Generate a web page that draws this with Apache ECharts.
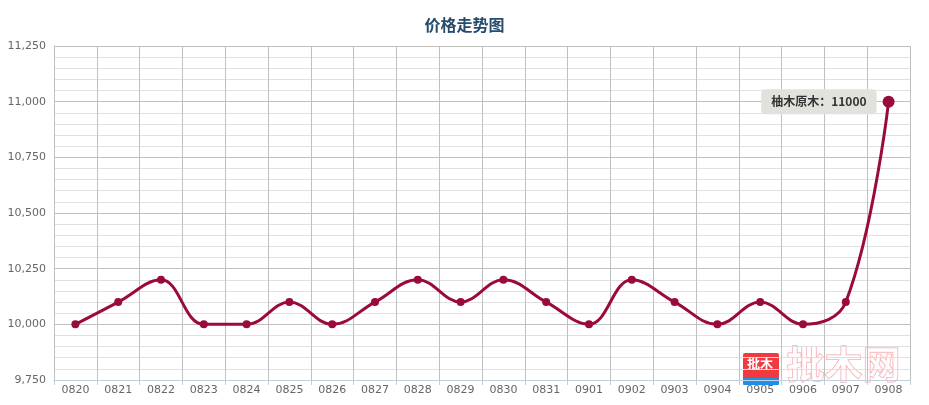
<!DOCTYPE html>
<html><head><meta charset="utf-8">
<script src="https://cdn.jsdelivr.net/npm/echarts@6/dist/echarts.min.js"></script>
<style>html,body{margin:0;padding:0;background:#fff}#c{width:929px;height:405px}</style>
</head><body><div id="c"></div>
<script>
const categories = ['0820','0821','0822','0823','0824','0825','0826','0827','0828','0829','0830','0831','0901','0902','0903','0904','0905','0906','0907','0908'];
const prices = [10000,10100,10200,10000,10000,10100,10000,10100,10200,10100,10200,10100,10000,10200,10100,10000,10100,10000,10100,11000];
const seriesName = '柚木原木';
const yMin = 9750, yMax = 11250, yStep = 250;

const chart = echarts.init(document.getElementById('c'));
const data = prices.map((v, i) => {
  if (i === prices.length - 1) {
    return {
      value: v, symbolSize: 12,
      label: {
        show: true, position: 'left', distance: 6,
        formatter: seriesName + '：' + v,
        backgroundColor: '#e2e2dd', borderRadius: 4, padding: [7, 10, 6, 10],
        color: '#333', fontWeight: 'bold', fontSize: 12,
        fontFamily: '"Noto Sans CJK SC", sans-serif'
      }
    };
  }
  return v;
});
chart.setOption({
  animation: false,
  title: {
    text: '价格走势图', left: 'center', top: 12,
    textStyle: { color: '#274b6d', fontSize: 16, fontWeight: 'bold', fontFamily: '"Noto Sans CJK SC", sans-serif' }
  },
  grid: { left: 54, right: 19, top: 46, bottom: 25 },
  xAxis: {
    type: 'category', data: categories, boundaryGap: true,
    axisLine: { lineStyle: { color: '#c0d0e0' } },
    axisTick: { show: true, length: 5, lineStyle: { color: '#c0d0e0' } },
    axisLabel: { color: '#666', fontSize: 11, margin: 5, fontFamily: '"DejaVu Sans", sans-serif' },
    splitLine: { show: true, lineStyle: { color: '#c0c0c0' } }
  },
  yAxis: {
    type: 'value', min: yMin, max: yMax, interval: yStep,
    axisLine: { show: true, lineStyle: { color: '#c0c0c0' } },
    axisTick: { show: false },
    axisLabel: {
      color: '#666', fontSize: 11, margin: 8, fontFamily: '"DejaVu Sans", sans-serif',
      formatter: v => v.toLocaleString('en-US')
    },
    splitLine: { show: true, lineStyle: { color: '#c0c0c0' } },
    minorTick: { show: false, splitNumber: 5 },
    minorSplitLine: { show: true, lineStyle: { color: '#e0e0e0' } }
  },
  series: [{
    type: 'line', name: seriesName, data: data, smooth: 0.4,
    symbol: 'circle', symbolSize: 8,
    lineStyle: { color: '#9b0a3c', width: 3 },
    itemStyle: { color: '#9b0a3c' }
  }],
  graphic: [
    { type: 'rect', left: 743, top: 353, shape: { width: 36, height: 31, r: 2 }, style: { fill: '#f03a3f' } },
    { type: 'rect', left: 743, top: 378, shape: { width: 36, height: 7, r: 1 }, style: { fill: '#1e90e8' } },
    { type: 'text', left: 747, top: 357, style: { text: '批木', fill: '#fff', font: 'bold 13px "Noto Sans CJK SC"' } },
    { type: 'text', left: 786, top: 344, style: { text: '批木网', fill: 'rgba(255,255,255,0.6)', stroke: 'rgba(240,120,130,0.7)', lineWidth: 1, font: 'bold 38px "Noto Sans CJK SC"' } }
  ]
});
</script></body></html>
